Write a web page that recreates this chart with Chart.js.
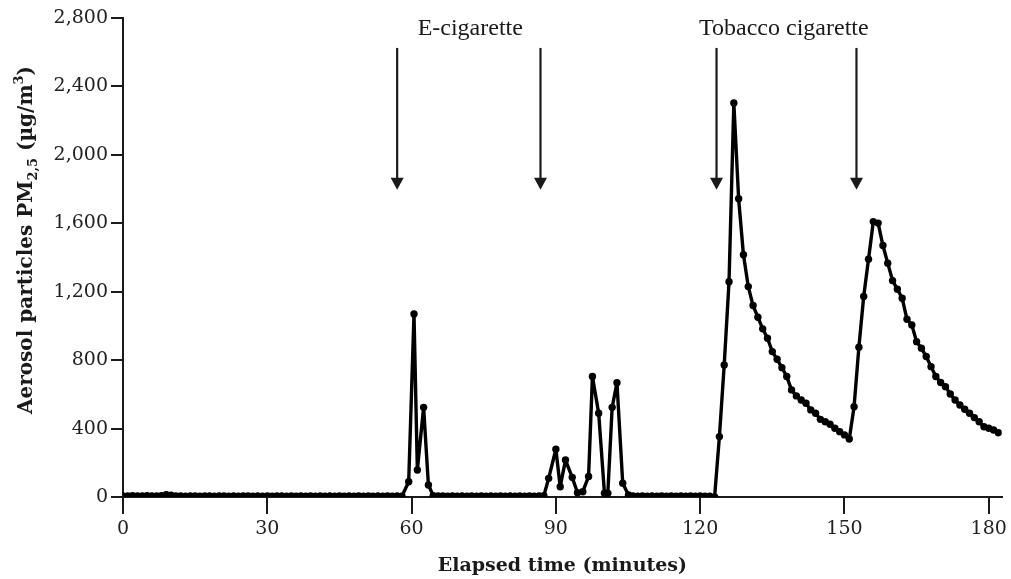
<!DOCTYPE html>
<html>
<head>
<meta charset="utf-8">
<title>Aerosol particles PM2.5</title>
<script src="https://cdn.jsdelivr.net/npm/chart.js@4.4.1/dist/chart.umd.min.js"></script>
<style>
  html, body { margin: 0; padding: 0; background: #fff; }
  #wrap { width: 1011px; height: 579px; }
</style>
</head>
<body>
<div id="wrap"><canvas id="chart"></canvas></div>
<script>
// background, nothing lit
const backgroundMinutes = [
    0, 1, 2, 3, 4, 5, 6, 7, 8, 9,
    10, 11, 12, 13, 14, 15, 16, 17, 18, 19,
    20, 21, 22, 23, 24, 25, 26, 27, 28, 29,
    30, 31, 32, 33, 34, 35, 36, 37, 38, 39,
    40, 41, 42, 43, 44, 45, 46, 47, 48, 49,
    50, 51, 52, 53, 54, 55, 56, 57, 58
];
const backgroundPm = [
    6, 6, 7, 6, 6, 7, 6, 6, 7, 14,
    10, 6, 6, 5, 6, 6, 5, 6, 6, 5,
    6, 6, 5, 6, 5, 6, 6, 5, 6, 5,
    6, 5, 6, 6, 5, 6, 5, 6, 5, 6,
    5, 6, 5, 6, 5, 6, 5, 6, 5, 6,
    5, 6, 5, 6, 5, 6, 5, 6, 5
];

// e-cigarette sessions
const ecigMinutes = [
    59.4, 60.5, 61.2, 62.5, 63.5,
    64.5, 65.5, 66.5, 67.5, 68.5, 69.5, 70.5, 71.5, 72.5, 73.5, 74.5, 75.5,
    76.5, 77.5, 78.5, 79.5, 80.5, 81.5, 82.5, 83.5, 84.5, 85.5, 86.5, 87.5,
    88.5, 90.0, 90.9, 92.0, 93.4, 94.5, 95.6, 96.8, 97.6, 98.9, 100.1, 100.8,
    101.7, 102.7, 103.9, 105.1,
    106, 107, 108, 109, 110, 111, 112, 113, 114, 115, 116, 117, 118, 119, 120, 121, 122
];
const ecigPm = [
    89, 1070, 158, 524, 70,
    8, 6, 6, 5, 6, 5, 6, 5, 6, 5, 6, 5,
    6, 5, 6, 5, 6, 5, 6, 5, 6, 5, 6, 7,
    109, 279, 60, 216, 115, 25, 31, 120, 704, 490, 22, 22,
    524, 668, 80, 12,
    6, 5, 6, 5, 6, 5, 6, 5, 6, 5, 6, 5, 6, 5, 6, 5, 4
];

// tobacco cigarettes
const tobaccoMinutes = [
    123, 124, 125, 126, 127, 128, 129, 130, 131, 132,
    133, 134, 135, 136, 137, 138, 139, 140, 141, 142,
    143, 144, 145, 146, 147, 148, 149, 150, 151, 152,
    153, 154, 155, 156, 157, 158, 159, 160, 161, 162,
    163, 164, 165, 166, 167, 168, 169, 170, 171, 172,
    173, 174, 175, 176, 177, 178, 179, 180, 181, 182
];
const tobaccoPm = [
    0, 353, 772, 1258, 2303, 1743, 1416, 1230, 1119, 1051,
    983, 928, 850, 805, 756, 704, 626, 591, 567, 548,
    509, 490, 454, 440, 425, 402, 382, 363, 339, 528,
    876, 1172, 1390, 1610, 1601, 1470, 1367, 1265, 1215, 1162,
    1039, 1006, 908, 870, 821, 762, 704, 669, 645, 602,
    567, 538, 513, 490, 464, 440, 411, 402, 392, 376
];

// arrows marking when each product was used
const arrowMinutes = [57.0, 86.8, 123.4, 152.5];
const arrowFrom = 2625;
const arrowTo = 1796;
const sourceNames = ['E-cigarette', 'Tobacco cigarette'];
const sourceMinutes = [72.2, 137.4];
const sourceLevel = 2702;

const xTicks = [0, 30, 60, 90, 120, 150, 180];

const minutes = [...backgroundMinutes, ...ecigMinutes, ...tobaccoMinutes];
const pm25 = [...backgroundPm, ...ecigPm, ...tobaccoPm];
const points = minutes.map((m, i) => ({ x: m, y: pm25[i] }));

const ink = '#1a1a1a';
const serif = "'DejaVu Serif', serif";

const annotations = {
    id: 'annotations',
    afterDatasetsDraw(chart) {
        const { ctx, scales: { x, y } } = chart;
        ctx.save();
        ctx.strokeStyle = ink;
        ctx.fillStyle = ink;
        ctx.lineWidth = 2.2;
        arrowMinutes.forEach(m => {
            const px = x.getPixelForValue(m);
            const top = y.getPixelForValue(arrowFrom);
            const tip = y.getPixelForValue(arrowTo);
            ctx.beginPath();
            ctx.moveTo(px, top);
            ctx.lineTo(px, tip - 10);
            ctx.stroke();
            ctx.beginPath();
            ctx.moveTo(px - 6.5, tip - 12);
            ctx.lineTo(px + 6.5, tip - 12);
            ctx.lineTo(px, tip);
            ctx.closePath();
            ctx.fill();
        });

        ctx.font = "24px 'Liberation Serif', serif";
        ctx.textAlign = 'center';
        ctx.textBaseline = 'alphabetic';
        sourceNames.forEach((name, i) => {
            ctx.fillText(name, x.getPixelForValue(sourceMinutes[i]), y.getPixelForValue(sourceLevel));
        });
        ctx.restore();
    },
    afterDraw(chart) {
        // y title with subscript and superscript
        const { ctx } = chart;
        const big = 'bold 20px ' + serif;
        const small = 'bold 13px ' + serif;
        const parts = [
            { t: 'Aerosol particles PM', f: big, dy: 0 },
            { t: '2,5', f: small, dy: 5 },
            { t: ' (\u00b5g/m', f: big, dy: 0 },
            { t: '3', f: small, dy: -9 },
            { t: ')', f: big, dy: 0 }
        ];
        ctx.save();
        let total = 0;
        parts.forEach(p => { ctx.font = p.f; p.w = ctx.measureText(p.t).width; total += p.w; });
        ctx.translate(32, 240);
        ctx.rotate(-Math.PI / 2);
        ctx.fillStyle = ink;
        ctx.textBaseline = 'alphabetic';
        ctx.textAlign = 'left';
        let cx = -total / 2;
        parts.forEach(p => {
            ctx.font = p.f;
            ctx.fillText(p.t, cx, p.dy);
            cx += p.w;
        });
        ctx.restore();
    }
};

new Chart(document.getElementById('chart'), {
    type: 'line',
    data: {
        datasets: [{
            label: 'PM2.5',
            data: points,
            borderColor: '#000',
            backgroundColor: '#000',
            borderWidth: 3.4,
            borderJoinStyle: 'round',
            borderCapStyle: 'round',
            pointRadius: 3.7,
            pointBackgroundColor: '#000',
            pointBorderWidth: 0,
            tension: 0,
            fill: false,
        }]
    },
    options: {
        responsive: true,
        maintainAspectRatio: false,
        animation: false,
        layout: { padding: { top: 18, right: 8, left: 0, bottom: 0 } },
        plugins: {
            legend: { display: false },
            tooltip: { enabled: false }
        },
        scales: {
            x: {
                type: 'linear',
                min: 0,
                max: 182.7,
                border: { display: true, color: ink, width: 2 },
                grid: { drawOnChartArea: false, drawTicks: true, tickLength: 17, color: ink, lineWidth: 2 },
                afterBuildTicks: scale => { scale.ticks = xTicks.map(v => ({ value: v })); },
                afterFit: scale => { scale.height = 82; },
                ticks: {
                    autoSkip: false,
                    maxRotation: 0,
                    padding: 4,
                    color: '#222',
                    font: { family: serif, size: 19 }
                },
                title: {
                    display: true,
                    text: 'Elapsed time (minutes)',
                    color: ink,
                    font: { family: serif, size: 19, weight: 'bold' },
                    padding: { top: 0, bottom: 2 }
                }
            },
            y: {
                min: 0,
                max: 2800,
                border: { display: true, color: ink, width: 2 },
                grid: { drawOnChartArea: false, drawTicks: true, tickLength: 12, color: ink, lineWidth: 2 },
                afterFit: scale => { scale.width = 123; },
                ticks: {
                    stepSize: 400,
                    padding: 3,
                    color: '#222',
                    font: { family: serif, size: 19 },
                    callback: v => v.toLocaleString('en-US')
                }
            }
        }
    },
    plugins: [annotations]
});
</script>
</body>
</html>
